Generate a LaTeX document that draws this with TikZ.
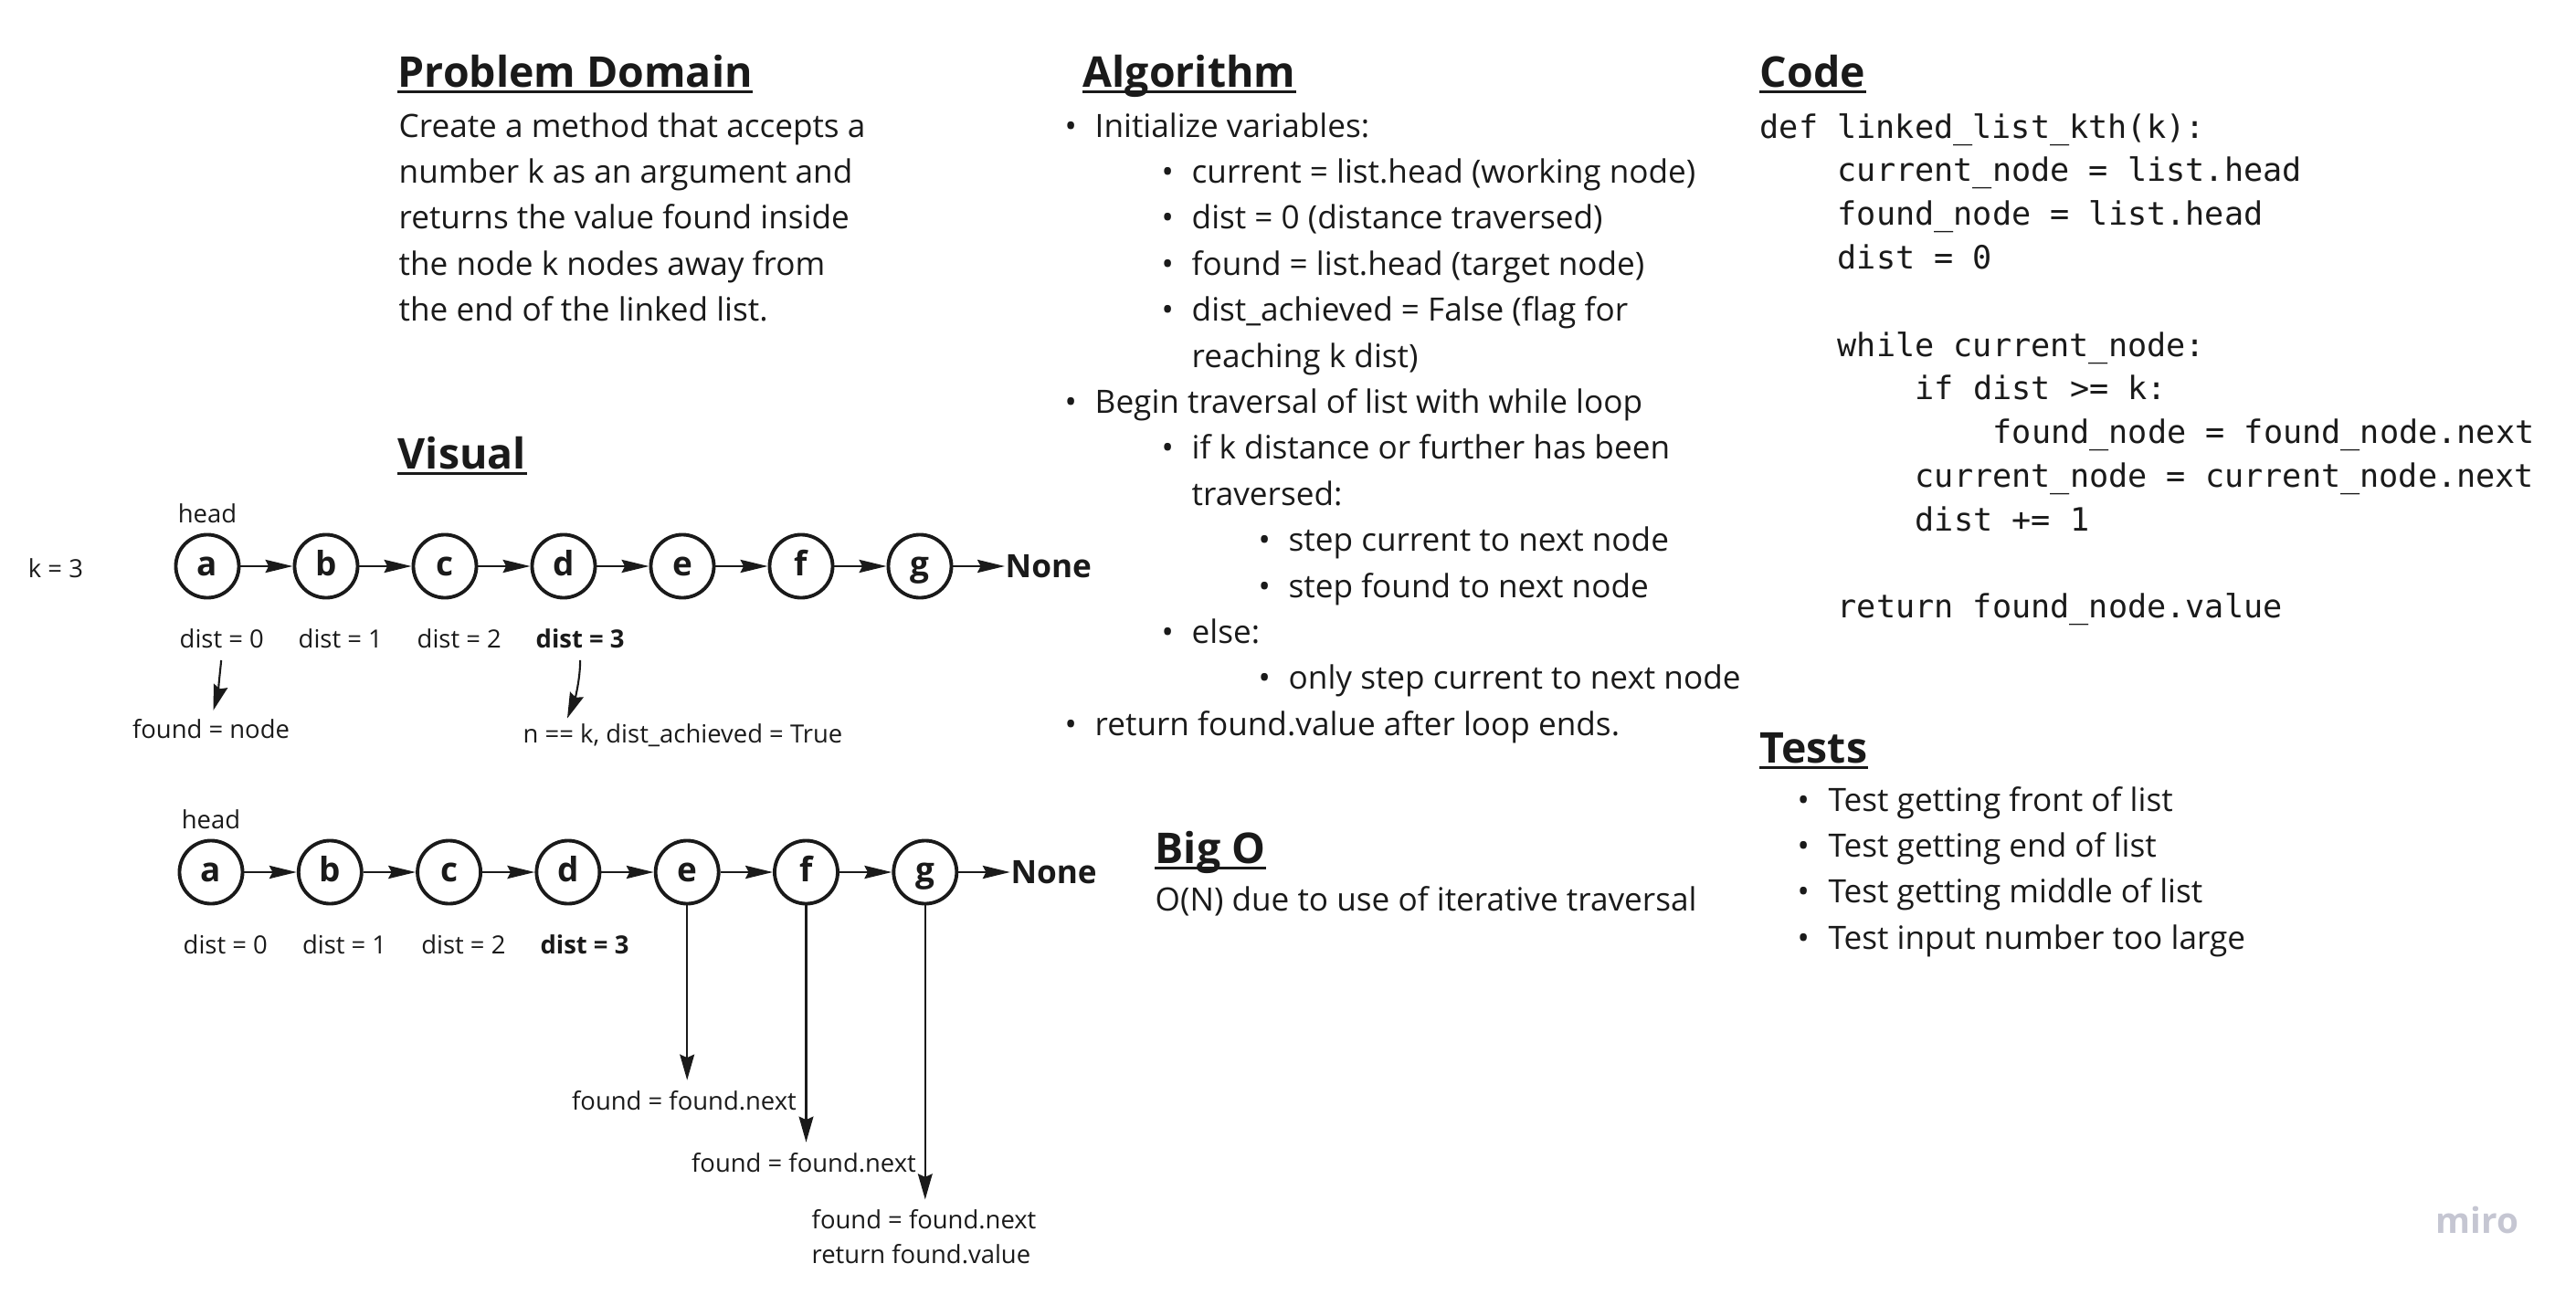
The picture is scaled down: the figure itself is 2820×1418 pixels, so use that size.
\documentclass[tikz,border=0pt]{standalone}
\usepackage{fontspec}
\setmainfont{Open Sans}
\newfontfamily\codefont{DejaVu Sans Mono}
\usepackage{tikz}
\usetikzlibrary{arrows.meta}

\definecolor{ink}{HTML}{1A1A1A}
\definecolor{miroc}{HTML}{C5C6D2}

\begin{document}
\begin{tikzpicture}[x=0.01cm, y=-0.01cm, color=ink,
    heading/.style={font=\fontsize{13.2}{16}\selectfont\bfseries, anchor=base west, inner sep=0pt},
    body/.style={font=\fontsize{10}{14.3}\selectfont, anchor=base west, inner sep=0pt},
    small/.style={font=\fontsize{7.8}{10.8}\selectfont, inner sep=0pt},
    smallb/.style={font=\fontsize{7.8}{10.8}\selectfont\bfseries, inner sep=0pt},
    code/.style={font=\codefont\fontsize{10}{13.6}\selectfont, anchor=base west, inner sep=0pt},
    item/.style={circle, draw, line width=1.1pt, minimum size=0.69cm, inner sep=0pt,
        font=\fontsize{10.5}{12}\selectfont\bfseries, text height=0.7em, text depth=0.1em},
    nonebox/.style={font=\fontsize{10}{12}\selectfont\bfseries, anchor=west, inner sep=0pt},
    link/.style={-{Stealth[length=8.5pt, width=4pt, inset=1pt]}, line width=0.8pt},
    ptr/.style={-{Stealth[length=8pt, width=4.5pt, inset=1pt]}, line width=0.6pt},
    uline/.style={line width=1pt}]

    \useasboundingbox (0,0) rectangle (2820,1418);

    % Headings
    \foreach \nm/\x/\y/\txt in {pdhd/435/95/Problem Domain, alghd/1185/95/Algorithm,
        codehd/1926/95/Code, vishd/435/513/Visual, bighd/1264/945/Big O, testhd/1926/835/Tests} {
        \node[heading] (\nm) at (\x,\y) {\txt};
        \draw[uline] ([yshift=-1.6pt]\nm.base west) -- ([yshift=-1.6pt]\nm.base east);
    }

    % Problem domain
    \foreach \txt [count=\i] in {Create a method that accepts a, number k as an argument and,
        returns the value found inside, the node k nodes away from, the end of the linked list.}
        \node[body] (pd\i) at (436, {99.6+50.4*\i}) {\txt};

    % Algorithm
    \foreach \x/\b/\txt [count=\i] in {1198/1/{Initialize variables:},
        1304/1/{current = list.head (working node)},
        1304/1/{dist = 0 (distance traversed)},
        1304/1/{found = list.head (target node)},
        1304/1/{dist\_achieved = False (flag for},
        1304/0/{reaching k dist)},
        1198/1/{Begin traversal of list with while loop},
        1304/1/{if k distance or further has been},
        1304/0/{traversed:},
        1410/1/{step current to next node},
        1410/1/{step found to next node},
        1304/1/{else:},
        1410/1/{only step current to next node},
        1198/1/{return found.value after loop ends.}} {
        \node[body] (alg\i) at (\x, {99.6+50.4*\i}) {\txt};
        \ifnum\b=1 \node[body] (algb\i) at (\x-33, {99.6+50.4*\i}) {\textbullet}; \fi
    }

    % Code
    \foreach \i/\ind/\txt in {1/0/{def linked\_list\_kth(k):},
        2/1/{current\_node = list.head},
        3/1/{found\_node = list.head},
        4/1/{dist = 0},
        6/1/{while current\_node:},
        7/2/{if dist >= k:},
        8/3/{found\_node = found\_node.next},
        9/2/{current\_node = current\_node.next},
        10/2/{dist += 1},
        12/1/{return found\_node.value}}
        \node[code] (code\i) at ({1926+85*\ind}, {103.2+47.8*\i}) {\txt};

    % Tests
    \foreach \txt [count=\i] in {Test getting front of list, Test getting end of list,
        Test getting middle of list, Test input number too large} {
        \node[body] (testb\i) at (1967, {837.6+50.4*\i}) {\textbullet};
        \node[body] (test\i) at (2001, {837.6+50.4*\i}) {\txt};
    }

    % Big O
    \node[body] (bigo) at (1264, 997) {O(N) due to use of iterative traversal};

    % Visual: two copies of the list
    \node[small, anchor=base] (kval) at (61, 632) {k = 3};
    \foreach \row/\xa/\dx/\y in {1/227/130/620, 2/231/130.3/955} {
        \node[small, anchor=base] (head\row) at (\xa, \y-48) {head};
        \foreach \n [count=\i] in {a,b,c,d,e,f,g}
            \node[item] (r\row\n) at ({\xa+\dx*(\i-1)}, \y) {\n};
        \node[nonebox] (none\row) at ({\xa+\dx*6+93}, \y) {None};
        \foreach \s/\t in {a/b, b/c, c/d, d/e, e/f, f/g}
            \draw[link] (r\row\s) -- (r\row\t);
        \draw[link] (r\row g) -- (none\row);
        \foreach \k in {0,1,2}
            \node[small, anchor=base west] (dist\row\k) at ({\xa+\dx*\k-31}, \y+89) {dist = \k};
        \node[smallb, anchor=base west] (dist\row3) at ({\xa+\dx*3-31}, \y+89) {dist = 3};
    }

    % First list: notes
    \node[small, anchor=base] (found0) at (231, 808) {found = node};
    \node[small, anchor=base west] (nk) at (572, 813) {n == k, dist\_achieved = True};
    \draw[ptr, shorten <=3.7pt, shorten >=2.5pt] (dist10.south) .. controls +(-1,20) and +(6,-20) .. (found0.north);
    \draw[ptr, shorten <=3.7pt, shorten >=1.5pt] (dist13.south) .. controls +(0,35) and +(10,-25) .. ([xshift=0.47cm]nk.north west);

    % Second list: found steps forward
    \node[small, anchor=base] (step1) at (749, 1215) {found = found.next};
    \node[small, anchor=base] (step2) at (880, 1283) {found = found.next};
    \node[small, anchor=north west, align=left] (step3) at (888, 1324) {found = found.next\\return found.value};
    \draw[ptr, shorten >=3pt] (r2e) -- (r2e |- step1.north);
    \draw[ptr, shorten >=3pt] (r2f) -- (r2f |- step2.north);
    \draw[ptr, shorten >=3pt] (r2g) -- (r2g |- step3.north);

    % Watermark
    \node[font=\fontsize{11}{13}\selectfont\bfseries, text=miroc, anchor=base west, inner sep=0pt] (miro) at (2666, 1350) {miro};
\end{tikzpicture}
\end{document}
